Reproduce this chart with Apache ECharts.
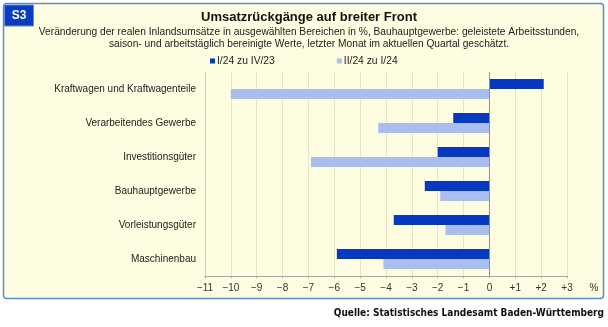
<!DOCTYPE html>
<html><head><meta charset="utf-8">
<script src="https://cdn.jsdelivr.net/npm/echarts@6/dist/echarts.min.js"></script>
<style>html,body{margin:0;padding:0;background:#fff}#c{width:608px;height:327px}</style>
</head><body><div id="c"></div>
<script>
const categories = ['Kraftwagen und Kraftwagenteile','Verarbeitendes Gewerbe','Investitionsgüter','Bauhauptgewerbe','Vorleistungsgüter','Maschinenbau'];
const seriesNames = ['I/24 zu IV/23','II/24 zu I/24'];
const q1Values = [2.1,-1.4,-2.0,-2.5,-3.7,-5.9];
const q2Values = [-10.0,-4.3,-6.9,-1.9,-1.7,-4.1];
const tickValues = [-11,-10,-9,-8,-7,-6,-5,-4,-3,-2,-1,0,1,2,3];
const tickLabels = ['\u221211','\u221210','\u22129','\u22128','\u22127','\u22126','\u22125','\u22124','\u22123','\u22122','\u22121','0','+1','+2','+3'];
const titleText = 'Umsatzrückgänge auf breiter Front';
const subtitleText = 'Veränderung der realen Inlandsumsätze in ausgewählten Bereichen in %, Bauhauptgewerbe: geleistete Arbeitsstunden,\nsaison- und arbeitstäglich bereinigte Werte, letzter Monat im aktuellen Quartal geschätzt.';
const sourceText = 'Quelle: Statistisches Landesamt Baden-Württemberg';

const dark = '#0639C0', light = '#A9BDEE';
const font = '"Liberation Sans", Arial, sans-serif';
const chart = echarts.init(document.getElementById('c'), null, {renderer:'canvas'});
chart.setOption({
  animation:false,
  backgroundColor:'#ffffff',
  graphic:[
    {type:'rect', z:-10, shape:{x:3.5,y:3.5,width:600,height:295,r:3}, style:{fill:'#FEFDE1', stroke:'#5B8CD8', lineWidth:1.5}},
    {type:'rect', z:5, shape:{x:4.5,y:5,width:29,height:21}, style:{fill:'#0A3CC2', stroke:'#5B8CD8', lineWidth:1}},
    {type:'text', z:6, x:19, y:16, style:{text:'S3', fill:'#fff', font:'bold 12px '+font, textAlign:'center', textVerticalAlign:'middle'}},
    {type:'text', z:6, x:594, y:288, style:{text:'%', fill:'#333', font:'10px '+font, textAlign:'center', textVerticalAlign:'middle'}},
    {type:'text', z:6, x:604, y:313, style:{text:sourceText, fill:'#111', font:'bold 10px "DejaVu Sans Condensed", sans-serif', textAlign:'right', textVerticalAlign:'middle'}}
  ],
  title:[
    {text:titleText, left:304, top:6, textAlign:'center', textStyle:{fontFamily:font, fontWeight:'bold', fontSize:13, color:'#111'}},
    {text:subtitleText, left:304, top:21, textAlign:'center', textStyle:{fontFamily:font, fontWeight:'normal', fontSize:10.2, lineHeight:12, color:'#222'}}
  ],
  legend:{
    left:205, top:51, itemWidth:5, itemHeight:5, itemGap:62, icon:'rect',
    textStyle:{fontFamily:font, fontSize:10.3, color:'#222', padding:[0,0,0,-3]},
    data:seriesNames
  },
  grid:{left:205, right:41, top:72, bottom:51, containLabel:false},
  xAxis:{
    type:'value', min:-11, max:3, interval:1,
    axisLine:{show:true, lineStyle:{color:'#a8a8a8', width:1}},
    axisTick:{show:true, length:2, inside:false, lineStyle:{color:'#a8a8a8'}},
    splitLine:{show:true, lineStyle:{color:'#E6E3C4', width:1}},
    axisLabel:{fontFamily:font, fontSize:10, color:'#333', margin:7,
      formatter:v=>{const i=tickValues.indexOf(v); return i>=0?tickLabels[i]:'';}}
  },
  yAxis:{
    type:'category', data:categories, inverse:true,
    axisLine:{show:true, onZero:false, lineStyle:{color:'#cfcdb8'}},
    axisTick:{show:false},
    axisLabel:{fontFamily:font, fontSize:10, color:'#222', margin:9}
  },
  series:[
    {name:seriesNames[0], type:'bar', data:q1Values, barWidth:10, barGap:'0%', itemStyle:{color:dark}, z:3},
    {name:seriesNames[1], type:'bar', data:q2Values, barWidth:10, barGap:'0%', itemStyle:{color:light}, z:3},
    {type:'line', data:[], markLine:{silent:true, symbol:'none', label:{show:false}, lineStyle:{color:'#8f8f8f', type:'solid', width:1}, data:[{xAxis:0}]}}
  ]
});
</script></body></html>
